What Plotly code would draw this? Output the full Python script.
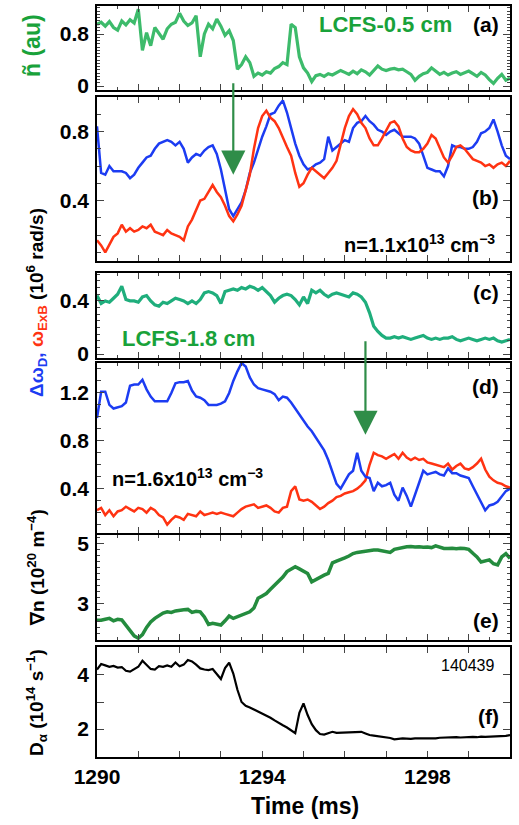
import plotly.graph_objects as go

W, H = 519, 825

# ---------------- data ----------------
time_ms = [round(1290 + 0.1 * i, 1) for i in range(101)]

ntilde = [0.95,0.98,0.92,0.99,0.90,0.86,1.00,0.94,1.02,0.97,
          1.18,0.55,0.82,0.62,0.90,0.80,0.72,0.88,0.95,0.98,
          1.12,1.00,0.93,0.97,1.08,0.45,0.80,0.95,0.88,1.03,
          0.92,0.78,0.85,0.70,0.26,0.33,0.45,0.36,0.15,0.20,
          0.17,0.22,0.20,0.27,0.30,0.36,0.33,0.95,0.90,0.45,
          0.28,0.20,0.07,0.16,0.18,0.15,0.19,0.17,0.20,0.24,
          0.21,0.18,0.23,0.19,0.25,0.22,0.17,0.24,0.31,0.26,
          0.24,0.26,0.27,0.25,0.26,0.22,0.18,0.09,0.15,0.19,
          0.21,0.28,0.23,0.18,0.21,0.17,0.20,0.22,0.18,0.21,
          0.23,0.19,0.15,0.21,0.17,0.10,0.04,0.12,0.18,0.09,
          0.12]

dwD_05 = [0.83,0.56,0.55,0.60,0.57,0.57,0.57,0.56,0.53,0.55,
          0.59,0.62,0.65,0.66,0.70,0.73,0.74,0.75,0.74,0.72,
          0.74,0.70,0.62,0.65,0.67,0.66,0.69,0.71,0.72,0.67,
          0.58,0.46,0.35,0.31,0.35,0.39,0.46,0.56,0.62,0.70,
          0.77,0.83,0.90,0.91,0.95,0.98,0.91,0.82,0.73,0.66,
          0.61,0.58,0.59,0.61,0.62,0.64,0.77,0.69,0.71,0.73,
          0.75,0.74,0.82,0.85,0.86,0.89,0.86,0.84,0.81,0.80,
          0.78,0.80,0.81,0.79,0.77,0.77,0.77,0.76,0.73,0.66,
          0.59,0.58,0.57,0.57,0.54,0.60,0.72,0.71,0.71,0.70,
          0.70,0.71,0.74,0.79,0.80,0.82,0.87,0.80,0.72,0.66,
          0.64]

wExB_05 = [0.17,0.14,0.10,0.15,0.19,0.21,0.26,0.22,0.24,0.22,
           0.23,0.25,0.24,0.26,0.22,0.21,0.20,0.23,0.21,0.20,
           0.19,0.17,0.25,0.29,0.34,0.40,0.41,0.45,0.49,0.45,
           0.42,0.37,0.31,0.28,0.32,0.37,0.46,0.55,0.70,0.82,
           0.89,0.92,0.88,0.86,0.82,0.76,0.71,0.66,0.56,0.48,
           0.50,0.55,0.59,0.57,0.55,0.53,0.56,0.59,0.63,0.73,
           0.82,0.89,0.93,0.90,0.85,0.82,0.76,0.72,0.72,0.76,
           0.81,0.85,0.86,0.83,0.76,0.71,0.69,0.68,0.68,0.70,
           0.73,0.78,0.76,0.70,0.65,0.62,0.66,0.71,0.72,0.70,
           0.67,0.64,0.63,0.62,0.60,0.61,0.59,0.61,0.62,0.60,
           0.63]

ntilde_18 = [0.44,0.38,0.40,0.39,0.42,0.45,0.51,0.41,0.40,0.40,
             0.39,0.43,0.44,0.40,0.37,0.36,0.39,0.38,0.40,0.42,
             0.41,0.40,0.38,0.40,0.38,0.41,0.46,0.47,0.46,0.44,
             0.38,0.47,0.48,0.49,0.48,0.50,0.49,0.51,0.50,0.48,
             0.50,0.47,0.44,0.39,0.42,0.44,0.45,0.44,0.41,0.37,
             0.43,0.38,0.48,0.46,0.48,0.45,0.43,0.45,0.46,0.45,
             0.44,0.43,0.46,0.45,0.43,0.39,0.31,0.21,0.17,0.14,
             0.12,0.12,0.13,0.12,0.13,0.12,0.11,0.12,0.13,0.14,
             0.12,0.11,0.12,0.11,0.12,0.12,0.13,0.11,0.10,0.11,
             0.12,0.11,0.10,0.11,0.12,0.11,0.12,0.10,0.09,0.10,
             0.11]

dwD_18 = [0.99,1.21,1.21,1.10,1.07,1.08,1.09,1.12,1.26,1.27,
          1.27,1.31,1.23,1.17,1.13,1.13,1.13,1.13,1.20,1.28,
          1.29,1.29,1.30,1.22,1.17,1.16,1.14,1.10,1.10,1.10,
          1.11,1.13,1.20,1.30,1.38,1.45,1.42,1.33,1.27,1.24,
          1.23,1.22,1.21,1.19,1.14,1.17,1.16,1.12,1.07,1.01,
          0.97,0.92,0.88,0.83,0.78,0.72,0.64,0.54,0.44,0.40,
          0.46,0.52,0.55,0.70,0.55,0.50,0.49,0.38,0.45,0.42,
          0.43,0.45,0.35,0.30,0.41,0.34,0.25,0.36,0.45,0.55,
          0.52,0.53,0.54,0.52,0.51,0.57,0.53,0.53,0.51,0.50,
          0.49,0.42,0.35,0.28,0.22,0.26,0.27,0.29,0.34,0.38,
          0.40]

wExB_18 = [0.22,0.24,0.18,0.22,0.17,0.21,0.22,0.25,0.23,0.21,
           0.24,0.23,0.20,0.24,0.22,0.18,0.16,0.10,0.14,0.17,
           0.16,0.14,0.19,0.18,0.17,0.21,0.18,0.19,0.20,0.19,
           0.20,0.19,0.18,0.17,0.20,0.23,0.25,0.26,0.27,0.24,
           0.25,0.26,0.24,0.21,0.20,0.24,0.25,0.38,0.42,0.31,
           0.30,0.31,0.29,0.26,0.23,0.25,0.28,0.30,0.33,0.34,
           0.36,0.37,0.38,0.40,0.43,0.47,0.60,0.70,0.68,0.67,
           0.65,0.67,0.69,0.65,0.70,0.66,0.64,0.66,0.64,0.65,
           0.62,0.61,0.60,0.59,0.58,0.61,0.56,0.59,0.61,0.57,
           0.56,0.58,0.61,0.65,0.56,0.50,0.47,0.45,0.44,0.42,
           0.41]

grad_n = [2.44,2.44,2.47,2.50,2.42,2.47,2.45,2.28,2.08,1.92,
          1.84,1.96,2.20,2.38,2.50,2.60,2.68,2.72,2.70,2.75,
          2.78,2.79,2.80,2.70,2.74,2.72,2.55,2.30,2.34,2.31,
          2.28,2.42,2.58,2.50,2.55,2.62,2.67,2.72,2.85,3.17,
          3.25,3.33,3.47,3.60,3.75,3.88,4.06,4.15,4.22,4.15,
          4.08,4.00,3.72,3.80,3.88,3.94,4.00,4.35,4.41,4.45,
          4.52,4.58,4.66,4.70,4.72,4.76,4.77,4.78,4.78,4.76,
          4.74,4.70,4.80,4.84,4.87,4.89,4.90,4.88,4.89,4.87,
          4.88,4.86,4.92,4.86,4.83,4.83,4.84,4.82,4.84,4.83,
          4.80,4.67,4.55,4.38,4.42,4.45,4.32,4.28,4.55,4.66,
          4.50]

d_alpha = [4.20,4.40,4.35,4.30,4.33,4.27,4.29,4.15,4.12,4.22,
           4.30,4.52,4.38,4.22,4.20,4.32,4.30,4.35,4.30,4.46,
           4.32,4.38,4.55,4.50,4.38,4.24,4.20,4.18,4.22,4.05,
           3.85,4.25,4.45,4.05,3.45,3.00,2.86,2.80,2.73,2.66,
           2.58,2.50,2.42,2.32,2.22,2.14,2.06,1.95,1.85,2.60,
           2.95,2.52,2.18,1.96,1.82,1.80,1.84,1.90,1.86,1.87,
           1.86,1.88,1.90,1.91,1.90,1.84,1.78,1.76,1.74,1.72,
           1.70,1.67,1.62,1.64,1.66,1.65,1.64,1.66,1.66,1.65,
           1.66,1.67,1.66,1.68,1.69,1.68,1.69,1.70,1.69,1.70,
           1.70,1.71,1.70,1.72,1.71,1.72,1.73,1.72,1.74,1.75,
           1.78]

x_labelled = [1290, 1294, 1298]
y_labelled = [[0, 0.8], [0.4, 0.8], [0, 0.4], [0.4, 0.8, 1.2], [3, 5], [2, 4]]

# ---------------- styling ----------------
GREEN_A = "#3dbb6b"
TEAL_C = "#1fae7c"
GREEN_E = "#248c3e"
BLUE = "#1c3cf2"
RED = "#ff3312"
ARROW = "#2f8d48"
TXT_GREEN = "#19a23a"
FONT = "Liberation Sans, Arial, sans-serif"

def ydom(top, bottom):
    return [1 - bottom / H, 1 - top / H]

XDOM = [97 / W, 510 / W]

panels = [(6, 90), (97, 261), (273, 358), (363, 533), (535, 640), (647, 757)]
yranges = [[-0.06, 1.23], [0.05, 1.0], [-0.03, 0.61], [0.03, 1.45], [1.78, 5.28], [0.97, 5.03]]
yminor = [(0.05, 3), (0.1, 4), (0.05, 3), (0.1, 4), (0.2, 3), (1, 7)]

fig = go.Figure()

series = [
    (1, ntilde, GREEN_A, 3.2),
    (2, dwD_05, BLUE, 2.5),
    (2, wExB_05, RED, 2.5),
    (3, ntilde_18, TEAL_C, 3.2),
    (4, wExB_18, RED, 2.5),
    (4, dwD_18, BLUE, 2.5),
    (5, grad_n, GREEN_E, 3.5),
    (6, d_alpha, "black", 2.2),
]
for k, ys, col, w in series:
    sfx = "" if k == 1 else str(k)
    fig.add_trace(go.Scatter(x=time_ms, y=ys, mode="lines",
                             line=dict(color=col, width=w),
                             xaxis="x" + sfx, yaxis="y" + sfx,
                             showlegend=False, hoverinfo="skip"))

tickfont = dict(family=FONT, size=21, color="black", weight="bold")
layout = dict(width=W, height=H, margin=dict(l=0, r=0, t=0, b=0),
              paper_bgcolor="white", plot_bgcolor="white", showlegend=False,
              font=dict(family=FONT, color="black"))

for i in range(6):
    k = i + 1
    sfx = "" if k == 1 else str(k)
    xd = dict(domain=XDOM, anchor="y" + sfx, range=[1290, 1300],
              ticks="inside", ticklen=6, tickwidth=1,
              showline=True, linecolor="black", linewidth=1.5, mirror="ticks",
              showgrid=False, zeroline=False, automargin=False, tickfont=tickfont)
    if k == 6:
        xd.update(tickmode="array", tickvals=x_labelled, showticklabels=True,
                  minor=dict(ticks="inside", ticklen=6, dtick=1, tickwidth=1, showgrid=False))
    else:
        xd.update(tickmode="linear", tick0=1290, dtick=1, showticklabels=False,
                  minor=dict(ticks="inside", ticklen=3, dtick=0.5, tickwidth=1, showgrid=False))
    layout["xaxis" + sfx] = xd
    md, ml = yminor[i]
    layout["yaxis" + sfx] = dict(
        domain=ydom(*panels[i]), anchor="x" + sfx, range=yranges[i],
        tickmode="array", tickvals=y_labelled[i],
        ticks="inside", ticklen=7, tickwidth=1,
        minor=dict(ticks="inside", ticklen=ml, dtick=md, tick0=0, tickwidth=1, showgrid=False),
        showline=True, linecolor="black", linewidth=1.5, mirror="ticks",
        showgrid=False, zeroline=False, automargin=False, tickfont=tickfont,
        ticklabelstandoff=2)

fig.update_layout(**layout)

def px(x):
    return x / W

def py(y):
    return 1 - y / H

ann = []
def txt(x, y, s, size=20, color="black", xanchor="center", angle=0, weight="bold"):
    ann.append(dict(x=px(x), y=py(y), xref="paper", yref="paper", text=s, showarrow=False,
                    xanchor=xanchor, yanchor="middle", textangle=angle,
                    font=dict(family=FONT, size=size, color=color, weight=weight)))

for lab, yy in [("(a)", 25), ("(b)", 197), ("(c)", 292), ("(d)", 386), ("(e)", 620), ("(f)", 716)]:
    txt(501, yy, lab, size=21, xanchor="right")

txt(385, 25, "LCFS-0.5 cm", size=22, color=TXT_GREEN)
txt(188, 338, "LCFS-1.8 cm", size=22, color=TXT_GREEN)
txt(497, 243, "n=1.1x10<sup>13</sup> cm<sup>−3</sup>", size=20, xanchor="right")
txt(110, 478, "n=1.6x10<sup>13</sup> cm<sup>−3</sup>", size=20, xanchor="left")
txt(496, 665, "140439", size=16, xanchor="right", weight="normal")

txt(32, 46, "ñ (au)", size=23, color=TXT_GREEN, angle=-90)
txt(36, 302, "<span style='color:%s'>Δω<sub>D</sub>,</span> <span style='color:%s'>ω<sub>ExB</sub></span> (10<sup>6</sup> rad/s)" % (BLUE, RED),
    size=19, angle=-90)
txt(36, 567, "∇n (10<sup>20</sup> m<sup>−4</sup>)", size=19, angle=-90)
txt(36, 702, "D<sub>α</sub> (10<sup>14</sup> s<sup>−1</sup>)", size=19, angle=-90)
txt(305, 806, "Time (ms)", size=23)

ann.append(dict(x=1293.3, y=0.55, xref="x2", yref="y2", ax=0, ay=-93, axref="pixel", ayref="pixel",
                showarrow=True, arrowhead=2, arrowsize=2.2, arrowwidth=2.2, arrowcolor=ARROW, text=""))
ann.append(dict(x=1296.5, y=0.85, xref="x4", yref="y4", ax=0, ay=-95, axref="pixel", ayref="pixel",
                showarrow=True, arrowhead=2, arrowsize=2.2, arrowwidth=2.2, arrowcolor=ARROW, text=""))

fig.update_layout(annotations=ann)
fig.write_html("out.html")
